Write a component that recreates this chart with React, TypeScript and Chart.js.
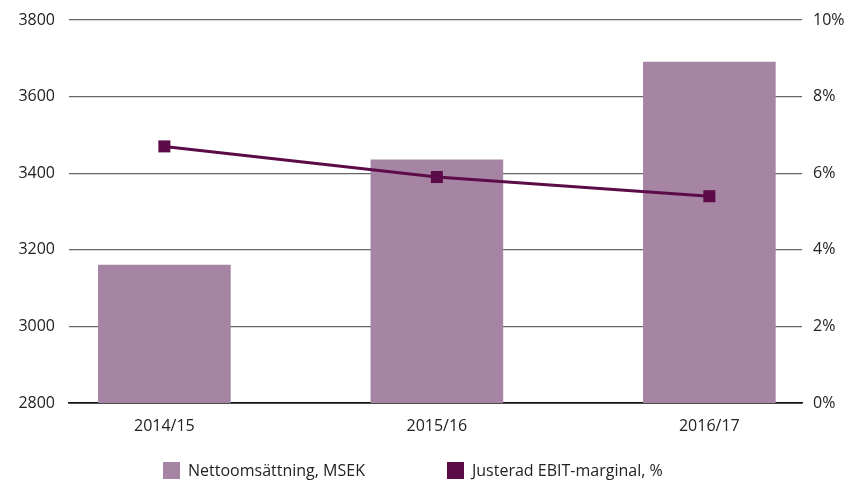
import React, { useEffect, useRef } from "react";
import { Chart, registerables } from "chart.js";

Chart.register(...registerables);

const categories = ["2014/15", "2015/16", "2016/17"];
const netSales = [3160, 3435, 3690];
const ebitMargin = [6.7, 5.9, 5.4];
const leftTicks = [2800, 3000, 3200, 3400, 3600, 3800];
const rightTicks = [0, 2, 4, 6, 8, 10];
const seriesNames = ["Nettoomsättning, MSEK", "Justerad EBIT-marginal, %"];

const BAR_COLOR = "#A684A4";
const LINE_COLOR = "#5C0B49";
const FONT = "'Open Sans', 'Noto Sans', sans-serif";

export default function App() {
  const ref = useRef<HTMLCanvasElement | null>(null);

  useEffect(() => {
    if (!ref.current) return;
    const chart = new Chart(ref.current, {
      type: "bar",
      data: {
        datasets: [
          {
            type: "line",
            label: seriesNames[1],
            data: ebitMargin.map((v, i) => ({ x: i, y: v })),
            yAxisID: "y1",
            borderColor: LINE_COLOR,
            backgroundColor: LINE_COLOR,
            borderWidth: 3,
            pointStyle: "rect",
            pointRadius: 8.5,
            pointBorderWidth: 0,
            tension: 0,
            order: 0,
          } as any,
          {
            type: "bar",
            label: seriesNames[0],
            data: netSales.map((v, i) => ({ x: i, y: v })),
            yAxisID: "y",
            backgroundColor: BAR_COLOR,
            barThickness: 132,
            order: 1,
          },
        ],
      },
      options: {
        animation: false,
        responsive: false,
        maintainAspectRatio: false,
        layout: { padding: { top: 20, bottom: 39, left: 0, right: 0 } },
        plugins: { legend: { display: false }, tooltip: { enabled: false } },
        scales: {
          x: {
            type: "linear",
            offset: false,
            min: -0.35,
            max: 2.34,
            afterBuildTicks: (s: any) => {
              s.ticks = categories.map((_, i) => ({ value: i }));
            },
            afterFit: (s: any) => {
              s.height = 40;
              s.paddingLeft = 0;
              s.paddingRight = 0;
            },
            grid: { display: false, drawTicks: false },
            border: { display: true, color: "#111", width: 1.5 },
            ticks: {
              padding: 14,
              color: "#222",
              font: { family: FONT, size: 16 },
              autoSkip: false,
              maxRotation: 0,
              callback: (v: any) => categories[Math.round(Number(v))] ?? "",
            },
          },
          y: {
            position: "left",
            min: leftTicks[0],
            max: leftTicks[leftTicks.length - 1],
            afterBuildTicks: (s: any) => {
              s.ticks = leftTicks.map((v) => ({ value: v }));
            },
            afterFit: (s: any) => {
              s.width = 69;
              s.paddingTop = 0;
              s.paddingBottom = 0;
            },
            grid: {
              drawTicks: false,
              color: (c: any) => (c.tick && c.tick.value === leftTicks[0] ? "#111" : "#666"),
              lineWidth: (c: any) => (c.tick && c.tick.value === leftTicks[0] ? 1.5 : 1.2),
            },
            border: { display: false },
            ticks: {
              padding: 14,
              color: "#222",
              font: { family: FONT, size: 16 },
              callback: (v: any) => String(v),
            },
          },
          y1: {
            position: "right",
            min: rightTicks[0],
            max: rightTicks[rightTicks.length - 1],
            afterBuildTicks: (s: any) => {
              s.ticks = rightTicks.map((v) => ({ value: v }));
            },
            afterFit: (s: any) => {
              s.width = 48;
              s.paddingTop = 0;
              s.paddingBottom = 0;
            },
            grid: { display: false, drawTicks: false },
            border: { display: false },
            ticks: {
              padding: 11,
              color: "#222",
              font: { family: FONT, size: 16 },
              callback: (v: any) => v + "%",
            },
          },
        },
      },
    });
    return () => chart.destroy();
  }, []);

  const legendItem = (color: string, text: string, left: number) => (
    <div
      style={{
        position: "absolute",
        left,
        top: 461,
        display: "flex",
        alignItems: "center",
        fontFamily: FONT,
        fontSize: 16,
        color: "#222",
        whiteSpace: "nowrap",
      }}
    >
      <span style={{ width: 17, height: 17, background: color, display: "inline-block", marginRight: 8 }} />
      <span style={{ lineHeight: "18px" }}>{text}</span>
    </div>
  );

  return (
    <div style={{ position: "absolute", left: 0, top: 0, width: 850, height: 482, background: "#fff" }}>
      <canvas ref={ref} width={850} height={482} style={{ display: "block" }} />
      {legendItem(BAR_COLOR, seriesNames[0], 163)}
      {legendItem(LINE_COLOR, seriesNames[1], 447)}
    </div>
  );
}
